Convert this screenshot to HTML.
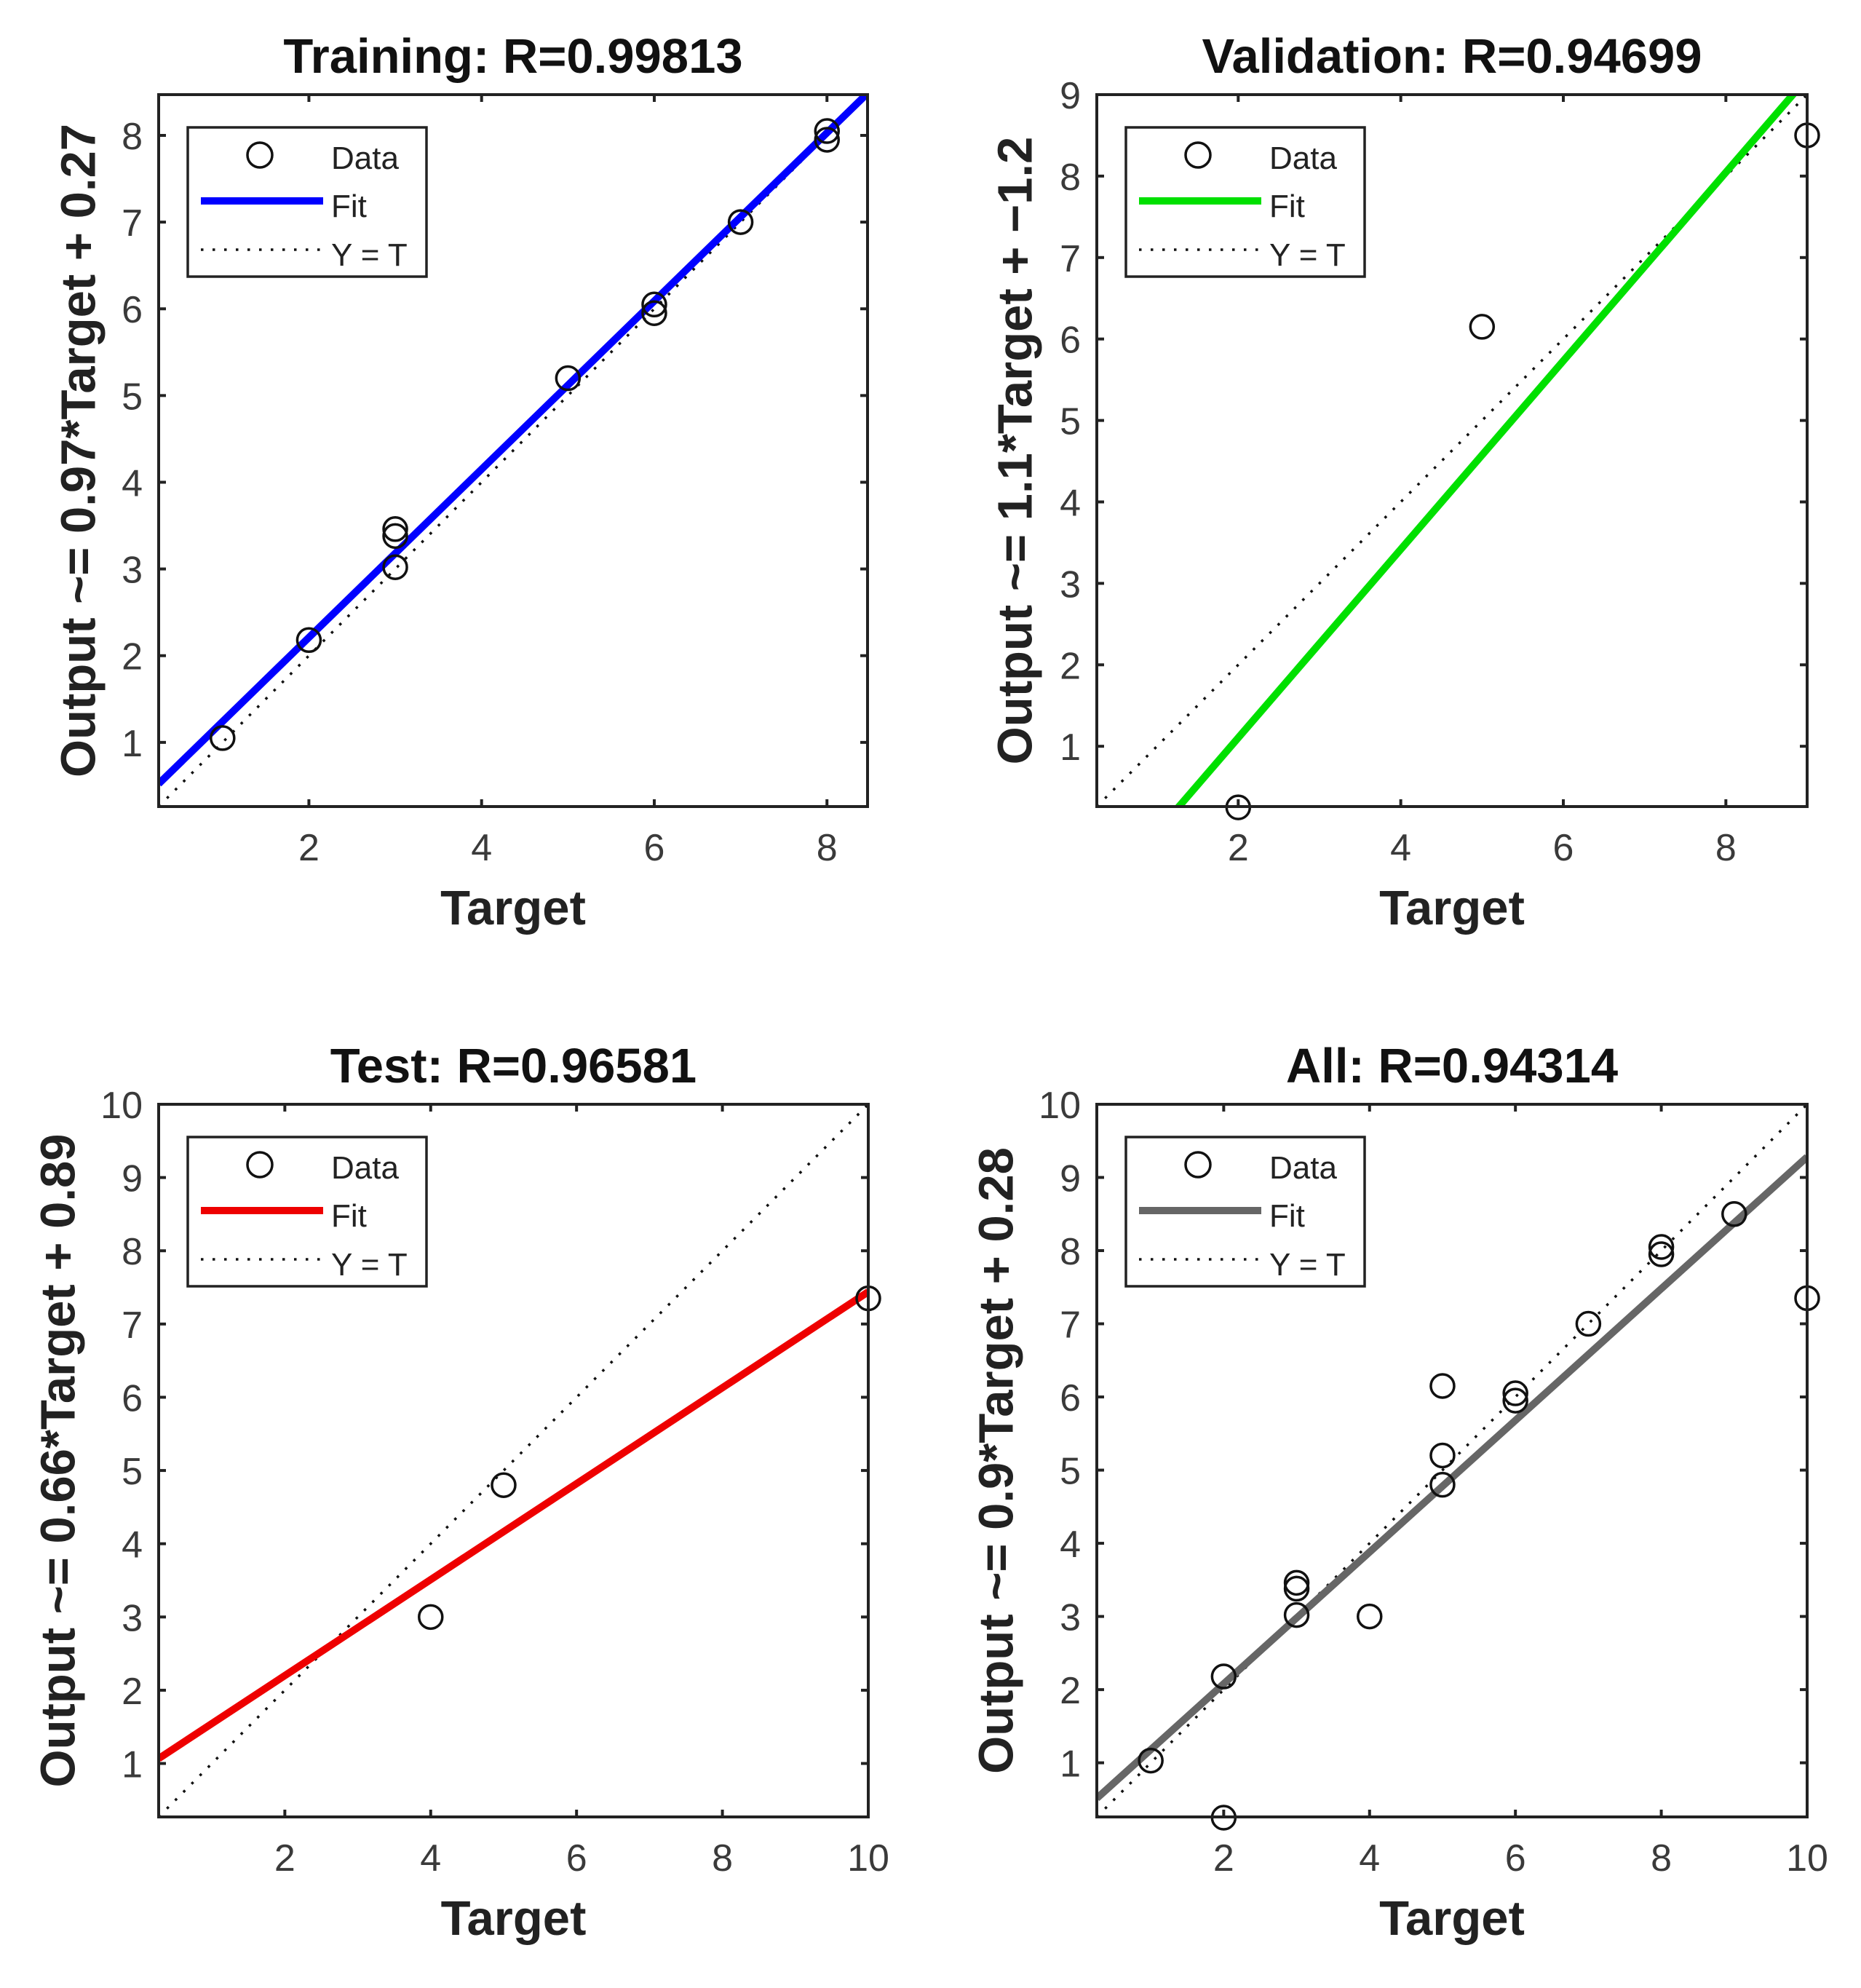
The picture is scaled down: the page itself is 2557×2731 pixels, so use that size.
<!DOCTYPE html>
<html><head><meta charset="utf-8"><style>
html,body{margin:0;padding:0;background:#fff;}
svg{display:block;font-family:"Liberation Sans",Arial,sans-serif;}
</style></head><body>
<svg id="fig" width="2557" height="2731" viewBox="0 0 2557 2731" xmlns="http://www.w3.org/2000/svg"></svg>
<script>
// ---- Data ----
const trainX = [1,2,3,3,3,5,6,6,7,8,8];
const trainY = [1.05,2.18,3.02,3.38,3.46,5.2,5.95,6.05,7.0,7.95,8.05];
const valX = [2,5,9];
const valY = [0.25,6.15,8.5];
const testX = [4,5,10];
const testY = [3.0,4.8,7.35];
const allX = [1,2,2,3,3,3,4,5,5,5,6,6,7,8,8,9,10];
const allY = [1.03,0.25,2.18,3.02,3.38,3.46,3.0,4.8,5.2,6.15,5.95,6.05,7.0,7.95,8.05,8.5,7.35];
const fitSlopes = [0.97,1.157,0.655,0.9];
const fitIntercepts = [0.27,-1.21,0.89,0.28];
const axisMins = [0.26,0.26,0.27,0.26];
const axisMaxs = [8.47,9.0,10,10];
const tickSets = [[1,2,3,4,5,6,7,8],[1,2,3,4,5,6,7,8,9],[1,2,3,4,5,6,7,8,9,10],[1,2,3,4,5,6,7,8,9,10]];
const xTickSets = [[2,4,6,8],[2,4,6,8],[2,4,6,8,10],[2,4,6,8,10]];
const titles = ["Training: R=0.99813","Validation: R=0.94699","Test: R=0.96581","All: R=0.94314"];
const yLabels = ["Output ~= 0.97*Target + 0.27","Output ~= 1.1*Target + \u22121.2","Output ~= 0.66*Target + 0.89","Output ~= 0.9*Target + 0.28"];
const fitColors = ["#0000ff","#00e000","#ee0000","#666666"];
const panelNames = ["training","validation","test","all"];

const NS="http://www.w3.org/2000/svg";
const svg=document.getElementById('fig');
function mk(tag,attrs,parent){const e=document.createElementNS(NS,tag);for(const k in attrs)e.setAttribute(k,attrs[k]);(parent||svg).appendChild(e);return e;}

const boxes=[{l:218,r:1192,t:130,b:1108,yl:108},{l:1507,r:2483,t:130,b:1108,yl:1395},{l:218,r:1193,t:1517,b:2496,yl:80},{l:1507,r:2483,t:1517,b:2496,yl:1369}];
const datasets=[[trainX,trainY],[valX,valY],[testX,testY],[allX,allY]];

boxes.forEach((B,i)=>{
  const g=mk('g',{});
  
  
  const lo=axisMins[i],hi=axisMaxs[i];
  const sx=v=>B.l+(v-lo)/(hi-lo)*(B.r-B.l);
  const sy=v=>B.b-(v-lo)/(hi-lo)*(B.b-B.t);
  const cid='clip'+i;
  const cp=mk('clipPath',{id:cid},g);mk('rect',{x:B.l,y:B.t,width:B.r-B.l,height:B.b-B.t},cp);
  const t=mk('text',{x:(B.l+B.r)/2,y:B.t-30,'text-anchor':'middle','font-size':67,'font-weight':'bold',fill:'#111'},g);
  t.textContent=titles[i];
  
  
  const id=mk('line',{x1:sx(lo),y1:sy(lo),x2:sx(hi),y2:sy(hi),stroke:'#111','stroke-width':3.5,'stroke-dasharray':'3.5 12.5','clip-path':'url(#'+cid+')'},g);
  
  
  const f=x=>fitSlopes[i]*x+fitIntercepts[i];
  const fl=mk('line',{x1:sx(lo),y1:sy(f(lo)),x2:sx(hi),y2:sy(f(hi)),stroke:fitColors[i],'stroke-width':10,'clip-path':'url(#'+cid+')'},g);
  
  
  const [X,Y]=datasets[i];
  X.forEach((x,j)=>{
    const c=mk('circle',{cx:sx(x),cy:sy(Y[j]),r:16,fill:'none',stroke:'#111','stroke-width':3.5},g);
    
    
  });
  const ax=mk('rect',{x:B.l,y:B.t,width:B.r-B.l,height:B.b-B.t,fill:'none',stroke:'#222','stroke-width':4},g);
  
  
  tickSets[i].forEach(v=>{
    const y=sy(v);
    mk('line',{x1:B.l,y1:y,x2:B.l+10,y2:y,stroke:'#222','stroke-width':4},g);
    mk('line',{x1:B.r,y1:y,x2:B.r-10,y2:y,stroke:'#222','stroke-width':4},g);
    const tl=mk('text',{x:B.l-22,y:y+19,'text-anchor':'end','font-size':52,fill:'#3a3a3a'},g);
    tl.textContent=v;
    
    
  });
  xTickSets[i].forEach(v=>{
    const x=sx(v);
    mk('line',{x1:x,y1:B.b,x2:x,y2:B.b-10,stroke:'#222','stroke-width':4},g);
    mk('line',{x1:x,y1:B.t,x2:x,y2:B.t+10,stroke:'#222','stroke-width':4},g);
    const tl=mk('text',{x:x,y:B.b+74,'text-anchor':'middle','font-size':52,fill:'#3a3a3a'},g);
    tl.textContent=v;
    
    
  });
  const xl=mk('text',{x:(B.l+B.r)/2,y:B.b+162,'text-anchor':'middle','font-size':67,'font-weight':'bold',fill:'#222'},g);
  xl.textContent='Target';
  
  
  const yc=(B.t+B.b)/2;
  const yt=mk('text',{x:B.yl,y:yc,'text-anchor':'middle','dominant-baseline':'central','font-size':67,'font-weight':'bold',fill:'#222',transform:'rotate(-90 '+B.yl+' '+yc+')'},g);
  yt.textContent=yLabels[i];
  
  
  const lx=B.l+40,ly=B.t+45;
  const lg=mk('g',{},g);
  
  
  mk('rect',{x:lx,y:ly,width:328,height:205,fill:'#fff',stroke:'#222','stroke-width':3.5},lg);
  mk('circle',{cx:lx+99,cy:ly+38,r:17,fill:'none',stroke:'#111','stroke-width':3.5},lg);
  mk('line',{x1:lx+18,y1:ly+101,x2:lx+186,y2:ly+101,stroke:fitColors[i],'stroke-width':10},lg);
  mk('line',{x1:lx+18,y1:ly+168,x2:lx+186,y2:ly+168,stroke:'#111','stroke-width':3.5,'stroke-dasharray':'3.5 12.5'},lg);
  const labs=['Data','Fit','Y = T'],bys=[57,123,190];
  labs.forEach((s,k)=>{
    const e=mk('text',{x:lx+197,y:ly+bys[k],'font-size':44,fill:'#222'},lg);
    e.textContent=s;
    
    
  });
});
</script>
</body></html>
